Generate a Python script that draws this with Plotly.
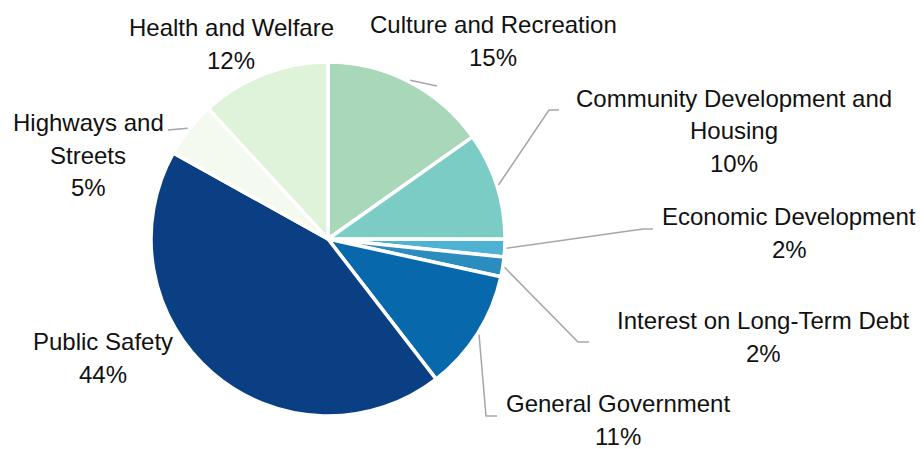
import math
import plotly.graph_objects as go

# ---- data ----
categories = ["Culture and Recreation", "Community Development and Housing",
              "Economic Development", "Interest on Long-Term Debt",
              "General Government", "Public Safety", "Highways and Streets",
              "Health and Welfare"]
values = [15.2, 9.8, 1.6, 1.8, 11.1, 43.5, 5.1, 11.8]
label_lines = [["Culture and Recreation"],
               ["Community Development and", "Housing"],
               ["Economic Development"],
               ["Interest on Long-Term Debt"],
               ["General Government"],
               ["Public Safety"],
               ["Highways and", "Streets"],
               ["Health and Welfare"]]
colors = ["#a8d8b9", "#7bccc4", "#4eb3d3", "#2b8cbe", "#0868ac", "#0a4083",
          "#f4faf0", "#dff2da"]

# ---- layout / style ----
W, H = 924, 449
CX, CY, R = 328, 239, 177
LINE_H = 32.5
# label block centres (px)
label_pos = [(493, 41), (734, 131), (789, 233), (763, 337), (618, 420),
             (103, 358), (88, 155), (231, 44)]
# leader-line elbow/end points (px); None = no leader
leaders = [[(437, 86)], [(549, 110), (559, 110)], [(643, 229), (653, 229)],
           [(578, 342), (589, 342)], [(486, 416), (497, 416)], None,
           [(168, 130)], None]

def px(x, y):
    return x / W, 1 - y / H

fig = go.Figure()
fig.add_trace(go.Pie(
    labels=categories, values=values, sort=False, direction="clockwise",
    rotation=0, textinfo="none", hoverinfo="label+percent",
    marker=dict(colors=colors, line=dict(color="white", width=3.5)),
    domain=dict(x=[(CX - R) / W, (CX + R) / W],
                y=[1 - (CY + R) / H, 1 - (CY - R) / H]),
    showlegend=False,
))

total = sum(values)
cum = 0.0
annotations = []
shapes = []
for i, v in enumerate(values):
    mid = (cum + v / 2) / total * 2 * math.pi
    cum += v
    pct = round(v / total * 100)
    lx, ly = label_pos[i]
    lines = label_lines[i] + [f"{pct}%"]
    n = len(lines)
    for k, t in enumerate(lines):
        yk = ly + (k - (n - 1) / 2) * LINE_H
        annotations.append(dict(
            x=lx / W, y=1 - yk / H, xref="paper", yref="paper",
            text=t, showarrow=False,
            xanchor="center", yanchor="middle", align="center",
            font=dict(family="Liberation Sans, Arial, sans-serif", size=24,
                      color="#111111")))
    if leaders[i]:
        sx = CX + R * 1.01 * math.sin(mid)
        sy = CY - R * 1.01 * math.cos(mid)
        pts = [(sx, sy)] + leaders[i]
        path = "M " + " L ".join(f"{px(x, y)[0]:.5f},{px(x, y)[1]:.5f}"
                                 for x, y in pts)
        shapes.append(dict(type="path", path=path, xref="paper", yref="paper",
                           line=dict(color="#a6a6a6", width=1.5),
                           layer="above"))

fig.update_layout(
    width=W, height=H, margin=dict(l=0, r=0, t=0, b=0),
    paper_bgcolor="white", plot_bgcolor="white",
    annotations=annotations, shapes=shapes,
)
fig.write_html("out.html", config={"displayModeBar": False},
               post_script="document.body.style.margin='0';"
                           "document.body.style.overflow='hidden';")
